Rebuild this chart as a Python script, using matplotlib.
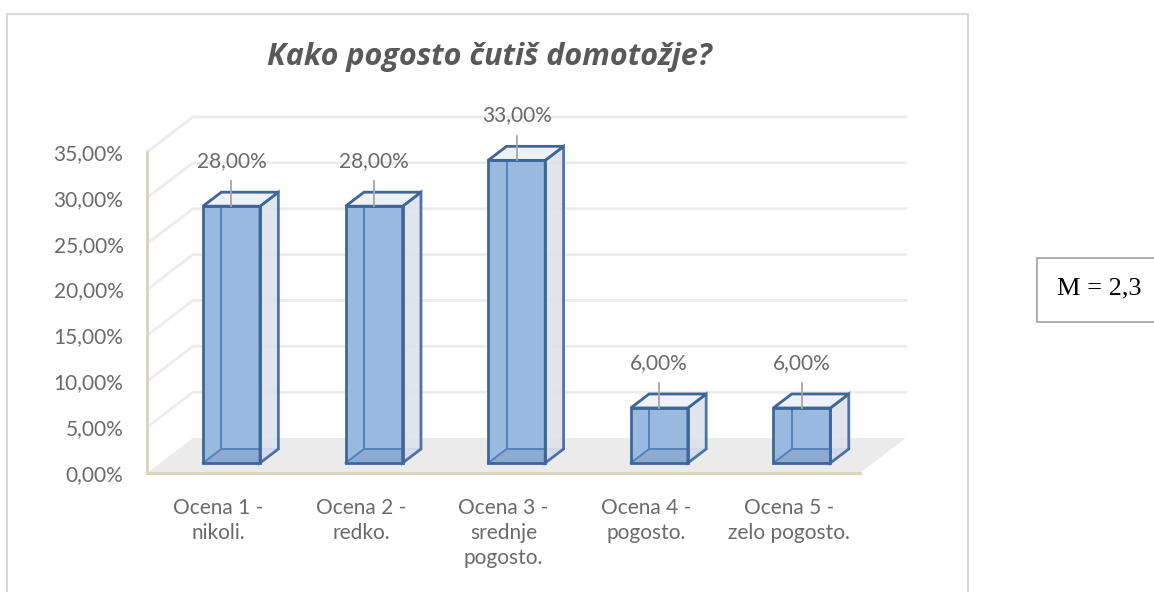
import numpy as np
import matplotlib
matplotlib.use("Agg")
import matplotlib.pyplot as plt
from matplotlib.patches import Polygon, Rectangle

# data
categories = ["Ocena 1 -\nnikoli.", "Ocena 2 -\nredko.", "Ocena 3 -\nsrednje\npogosto.",
              "Ocena 4 -\npogosto.", "Ocena 5 -\nzelo pogosto."]
values = [28.0, 28.0, 33.0, 6.0, 6.0]
y_ticks = [0, 5, 10, 15, 20, 25, 30, 35]
title = "Kako pogosto čutiš domotožje?"
mean_note = "M = 2,3"

W, H = 1154, 592
TXT = "#6a6a6a"

# 3d look: depth of the floor / walls in data units
DX, DY = 0.3226, 3.816
T0, T1 = 0.2857, 0.686     # depth of bar front and back faces
BAR_W = 0.40


def pct(v):
    return f"{v:.2f}".replace(".", ",") + "%"


fig = plt.figure(figsize=(W / 100, H / 100), dpi=100)
ax = fig.add_axes([147 / W, (H - 473) / H, (860 - 147) / W, (473 - 152) / H])
ax.set_xlim(-0.5, len(values) - 0.5)
ax.set_ylim(0, 35)
for s in ax.spines.values():
    s.set_visible(False)

x0, x1 = -0.5, len(values) - 0.5

# floor
floor = Polygon([(x0, 0), (x1, 0), (x1 + DX, DY), (x0 + DX, DY)], closed=True,
                facecolor="#ebebeb", edgecolor="none", clip_on=False, zorder=1)
ax.add_patch(floor)
ax.plot([x0, x1], [0, 0], color="#d8d4b8", lw=2, clip_on=False, zorder=2)
ax.plot([x0, x0], [0, 35], color="#d8d4b8", lw=2, clip_on=False, zorder=2)

# gridlines on left and back wall
for v in y_ticks[1:]:
    ax.plot([x0, x0 + DX, x1 + DX], [v, v + DY, v + DY], color="#ececec", lw=2,
            clip_on=False, zorder=1)

bx, by = (T1 - T0) * DX, (T1 - T0) * DY
edge = "#3e6699"
inner = "#5581bb"
for i, v in enumerate(values):
    xl = i - BAR_W / 2 + T0 * DX
    xr = i + BAR_W / 2 + T0 * DX
    yb = T0 * DY
    yt = yb + v
    # front face
    ax.add_patch(Rectangle((xl, yb), xr - xl, v, facecolor="#9ab9df", edgecolor="none",
                           clip_on=False, zorder=3))
    # bottom face
    ax.add_patch(Polygon([(xl, yb), (xl + bx, yb + by), (xr + bx, yb + by), (xr, yb)],
                         facecolor="#8caad2", edgecolor="none", clip_on=False, zorder=3))
    # hidden edges seen through the front
    ax.plot([xl + bx, xl + bx], [yb + by, yt + by], color=inner, lw=1.4, clip_on=False, zorder=4)
    ax.plot([xl, xl + bx, xr + bx], [yb, yb + by, yb + by], color=inner, lw=1.4,
            clip_on=False, zorder=4)
    # right side and top faces
    ax.add_patch(Polygon([(xr, yb), (xr + bx, yb + by), (xr + bx, yt + by), (xr, yt)],
                         facecolor="#dde2ea", edgecolor=edge, lw=2, alpha=0.9,
                         clip_on=False, zorder=4))
    ax.add_patch(Polygon([(xl, yt), (xl + bx, yt + by), (xr + bx, yt + by), (xr, yt)],
                         facecolor="#eef1f6", edgecolor=edge, lw=2, clip_on=False, zorder=5))
    ax.add_patch(Rectangle((xl, yb), xr - xl, v, facecolor="none", edgecolor=edge, lw=2,
                           clip_on=False, zorder=5))
    # data label with leader line
    xc = (xl + xr) / 2
    ax.plot([xc, xc], [yt, yt + 2.7], color="#a6a6a6", lw=1.3, clip_on=False, zorder=6)
    ax.text(xc, yt + 4.9, pct(v), ha="center", va="center", fontsize=15,
            family="Lato", color=TXT, zorder=6)

ax.set_yticks(y_ticks)
ax.set_yticklabels([pct(v) for v in y_ticks], family="Lato", fontsize=15, color=TXT)
ax.set_xticks(range(len(categories)))
ax.set_xticklabels(categories, family="Lato", fontsize=15, color=TXT, linespacing=1.32,
                   va="top")
ax.tick_params(axis="y", length=0, pad=17)
ax.tick_params(axis="x", length=0, pad=18)

# title and chart frame
fig.text(489 / W, 1 - 65 / H, title, ha="center", va="baseline", fontsize=22,
         family="Open Sans", fontweight="bold", style="italic", color="#595959")
fig.add_artist(Rectangle((7 / W, -0.05), (968 - 7) / W, 1.05 - 14 / H,
                         transform=fig.transFigure, facecolor="none",
                         edgecolor="#d9d9d9", lw=1.5))

# mean box
fig.add_artist(Rectangle((1037 / W, 1 - 322 / H), 200 / W, 64 / H,
                         transform=fig.transFigure, facecolor="white",
                         edgecolor="#a0a0a0", lw=1.2))
fig.text(1057 / W, 1 - 288 / H, mean_note, ha="left", va="center", fontsize=19,
         family="Liberation Serif", color="black")

fig.savefig("out.png", dpi=100)
